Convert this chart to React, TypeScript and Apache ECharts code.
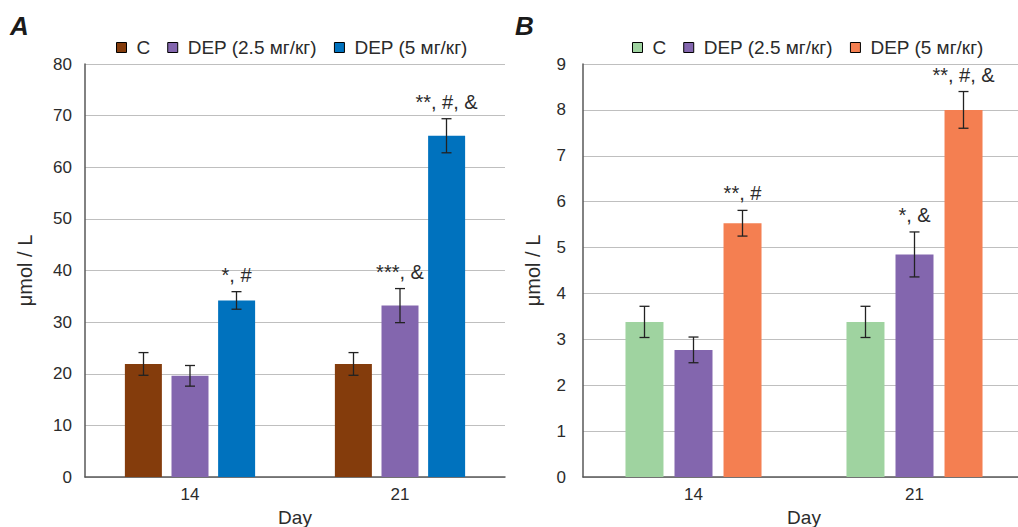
import React, { useEffect, useRef } from "react";
import * as echarts from "echarts";

const days = ["14", "21"];
const seriesNames = ["C", "DEP (2.5 мг/кг)", "DEP (5 мг/кг)"];

// Panel A
const aC = [21.9, 21.9];
const aCErr = [2.2, 2.2];
const aDep25 = [19.6, 33.2];
const aDep25Err = [2.0, 3.3];
const aDep5 = [34.2, 66.1];
const aDep5Err = [1.7, 3.3];
const aCSig = ["", ""];
const aDep25Sig = ["", "***, &"];
const aDep5Sig = ["*, #", "**, #, &"];
const aTicks = { min: 0, max: 80, interval: 10 };

// Panel B
const bC = [3.38, 3.38];
const bCErr = [0.34, 0.34];
const bDep25 = [2.77, 4.85];
const bDep25Err = [0.28, 0.49];
const bDep5 = [5.53, 8.0];
const bDep5Err = [0.28, 0.4];
const bCSig = ["", ""];
const bDep25Sig = ["", "*, &"];
const bDep5Sig = ["**, #", "**, #, &"];
const bTicks = { min: 0, max: 9, interval: 1 };

const colorsA = ["#843C0C", "#8366AE", "#0072BE"];
const colorsB = ["#9FD3A0", "#8366AE", "#F47F51"];

const FONT = "'Liberation Sans', Arial, sans-serif";
const TXT = "#2b2b2b";

export default function App() {
  const ref = useRef<HTMLDivElement>(null);
  useEffect(() => {
    if (!ref.current) return;
    const chart = echarts.init(ref.current, undefined, { renderer: "svg" });

    const panels = [
      {
        vals: [aC, aDep25, aDep5],
        errs: [aCErr, aDep25Err, aDep5Err],
        sigs: [aCSig, aDep25Sig, aDep5Sig],
        colors: colorsA,
        barWidth: 37,
        step: 46.5,
        gap: "26%",
      },
      {
        vals: [bC, bDep25, bDep5],
        errs: [bCErr, bDep25Err, bDep5Err],
        sigs: [bCSig, bDep25Sig, bDep5Sig],
        colors: colorsB,
        barWidth: 38,
        step: 49,
        gap: "29%",
      },
    ];

    const series: any[] = [];
    panels.forEach((p, pi) => {
      p.vals.forEach((v, si) => {
        series.push({
          type: "bar",
          name: seriesNames[si],
          xAxisIndex: pi,
          yAxisIndex: pi,
          data: v,
          barWidth: p.barWidth,
          barGap: p.gap,
          itemStyle: { color: p.colors[si] },
        });
      });
      p.vals.forEach((v, si) => {
        const offset = (si - 1) * p.step;
        const sig = p.sigs[si];
        series.push({
          type: "custom",
          name: "err" + pi + "_" + si,
          xAxisIndex: pi,
          yAxisIndex: pi,
          z: 5,
          clip: false,
          data: v.map((val, i) => [i, val, p.errs[si][i]]),
          renderItem: (params: any, api: any) => {
            const i = api.value(0);
            const val = api.value(1);
            const e = api.value(2);
            const top = api.coord([i, val + e]);
            const bot = api.coord([i, val - e]);
            const x = top[0] + offset;
            const st = { stroke: "#222222", lineWidth: 1.3 };
            const children: any[] = [
              { type: "line", shape: { x1: x, y1: top[1], x2: x, y2: bot[1] }, style: st },
              { type: "line", shape: { x1: x - 5, y1: top[1], x2: x + 5, y2: top[1] }, style: st },
              { type: "line", shape: { x1: x - 5, y1: bot[1], x2: x + 5, y2: bot[1] }, style: st },
            ];
            const label = sig[params.dataIndex];
            if (label) {
              children.push({
                type: "text",
                x: x,
                y: top[1] - 7,
                style: {
                  text: label,
                  fill: TXT,
                  font: `20px ${FONT}`,
                  textAlign: "center",
                  textVerticalAlign: "bottom",
                },
              });
            }
            return { type: "group", children };
          },
        });
      });
    });

    const legendData = (colors: string[]) =>
      seriesNames.map((n, i) => ({
        name: n,
        itemStyle: { color: colors[i], borderColor: "#000000", borderWidth: 1 },
      }));

    const legendCommon = {
      top: 33,
      icon: "rect",
      itemWidth: 10,
      itemHeight: 10,
      itemGap: 17,
      selectedMode: false,
      textStyle: { fontSize: 19, color: TXT, fontFamily: FONT, padding: [0, 0, 0, 5] },
    };

    const yAxisCommon = {
      type: "value",
      name: "μmol / L",
      nameLocation: "middle",
      nameTextStyle: { fontSize: 20, color: TXT, fontFamily: FONT },
      axisLine: { show: true, lineStyle: { color: "#595959", width: 1.5 } },
      axisTick: { show: false },
      splitLine: { show: true, lineStyle: { color: "#BFBFBF", width: 1.2 } },
    };
    const xAxisCommon = {
      type: "category",
      data: days,
      name: "Day",
      nameLocation: "middle",
      nameGap: 26,
      nameTextStyle: { fontSize: 19, lineHeight: 19, color: TXT, fontFamily: FONT },
      axisLine: { show: true, lineStyle: { color: "#595959", width: 1.5 } },
      axisTick: { show: false },
      axisLabel: { fontSize: 17, color: TXT, fontFamily: FONT, margin: 9 },
    };

    chart.setOption({
      animation: false,
      backgroundColor: "#ffffff",
      textStyle: { fontFamily: FONT },
      graphic: [
        {
          type: "text",
          left: 10,
          top: 13,
          style: { text: "A", font: `italic bold 26px ${FONT}`, fill: "#1a1a1a" },
        },
        {
          type: "text",
          left: 515,
          top: 13,
          style: { text: "B", font: `italic bold 26px ${FONT}`, fill: "#1a1a1a" },
        },
      ],
      legend: [
        { ...legendCommon, left: 111, data: legendData(colorsA) },
        { ...legendCommon, left: 627, data: legendData(colorsB) },
      ],
      grid: [
        { left: 85, top: 64, width: 420, height: 413, outerBoundsMode: "none", containLabel: false },
        { left: 583, top: 64, width: 442, height: 413, outerBoundsMode: "none", containLabel: false },
      ],
      xAxis: [
        { ...xAxisCommon, gridIndex: 0 },
        { ...xAxisCommon, gridIndex: 1 },
      ],
      yAxis: [
        {
          ...yAxisCommon,
          gridIndex: 0,
          nameGap: 50,
          ...aTicks,
          axisLabel: { fontSize: 17, color: TXT, fontFamily: FONT, margin: 13 },
        },
        {
          ...yAxisCommon,
          gridIndex: 1,
          nameGap: 40,
          ...bTicks,
          axisLabel: { fontSize: 17, color: TXT, fontFamily: FONT, margin: 17 },
        },
      ],
      series,
    });
    return () => chart.dispose();
  }, []);

  return (
    <div
      ref={ref}
      style={{ position: "absolute", left: 0, top: 0, width: 1018, height: 527 }}
    />
  );
}
